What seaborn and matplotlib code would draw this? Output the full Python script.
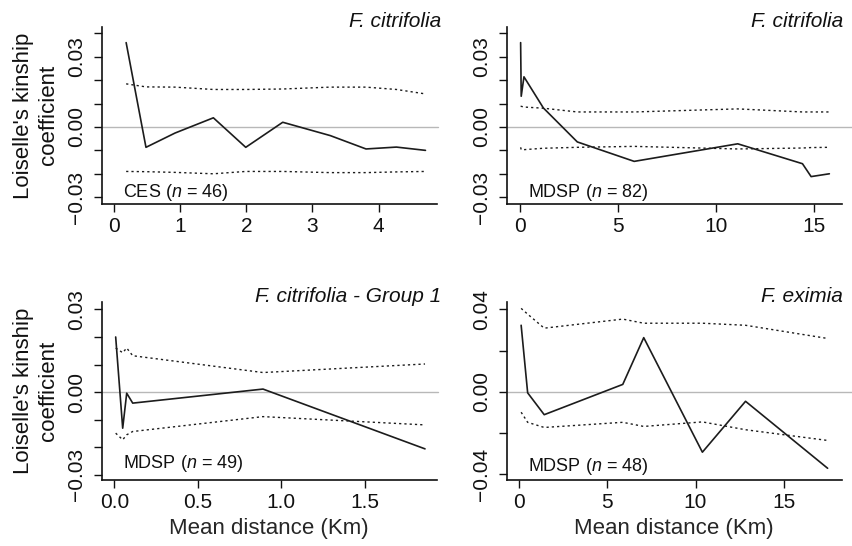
import numpy as np
import pandas as pd
import matplotlib
matplotlib.use("Agg")
import matplotlib.pyplot as plt
import seaborn as sns

# ---------------- data ----------------
# Panel A: F. citrifolia, CES (n = 46)
dist_a = [0.18, 0.48, 0.92, 1.50, 1.99, 2.55, 3.27, 3.81, 4.27, 4.71]
kin_a = [0.036, -0.0087, -0.0026, 0.0039, -0.0087, 0.0020, -0.0037, -0.0094, -0.0086, -0.0100]
up_a = [0.0184, 0.0171, 0.0170, 0.0160, 0.0160, 0.0162, 0.0170, 0.0170, 0.0160, 0.0141]
lo_a = [-0.0190, -0.0191, -0.0194, -0.0200, -0.0190, -0.0190, -0.0195, -0.0195, -0.0192, -0.0190]

# Panel B: F. citrifolia, MDSP (n = 82)
dist_b = [0.03, 0.06, 0.20, 1.19, 2.92, 5.82, 11.10, 14.40, 14.84, 15.77]
kin_b = [0.036, 0.0131, 0.0214, 0.0081, -0.0064, -0.0147, -0.0072, -0.0157, -0.0212, -0.0200]
up_b = [0.0088, 0.0088, 0.0085, 0.0080, 0.0064, 0.0064, 0.0077, 0.0064, 0.0064, 0.0064]
lo_b = [-0.0087, -0.0097, -0.0097, -0.0091, -0.0087, -0.0083, -0.0094, -0.0090, -0.0088, -0.0087]

# Panel C: F. citrifolia - Group 1, MDSP (n = 49)
dist_c = [0.008, 0.050, 0.074, 0.110, 0.890, 1.860]
kin_c = [0.0200, -0.0131, -0.0004, -0.0040, 0.0011, -0.0206]
up_c = [0.0160, 0.0143, 0.0160, 0.0132, 0.0071, 0.0102]
lo_c = [-0.0149, -0.0173, -0.0155, -0.0143, -0.0089, -0.0119]

# Panel D: F. eximia, MDSP (n = 48)
dist_d = [0.10, 0.47, 1.41, 5.87, 7.06, 10.39, 12.84, 17.50]
kin_d = [0.0323, -0.0005, -0.0111, 0.0036, 0.0263, -0.0293, -0.0046, -0.0371]
up_d = [0.0405, 0.0377, 0.0309, 0.0353, 0.0333, 0.0333, 0.0323, 0.0259]
lo_d = [-0.0099, -0.0148, -0.0173, -0.0148, -0.0168, -0.0146, -0.0184, -0.0236]

titles = ["F. citrifolia", "F. citrifolia", "F. citrifolia - Group 1", "F. eximia"]
notes = ["CES", "MDSP", "MDSP", "MDSP"]
ns = [46, 82, 49, 48]
xlabel = "Mean distance (Km)"
ylabel_lines = ["Loiselle's kinship", "coefficient"]

# ---------------- style ----------------
sns.set_style("ticks")
plt.rcParams["font.family"] = ["Liberation Sans", "DejaVu Sans"]
plt.rcParams["mathtext.fontset"] = "custom"
plt.rcParams["mathtext.rm"] = "Liberation Sans"
plt.rcParams["mathtext.it"] = "Liberation Sans:italic"

W, H = 853, 546
fig = plt.figure(figsize=(W / 100, H / 100), dpi=100)

def box(l, t, r, b):
    return [l / W, 1 - b / H, (r - l) / W, (b - t) / H]

axes_px = [(101.7, 26.7, 436.7, 204.0), (506.7, 26.7, 841.7, 204.0),
           (101.7, 302.0, 436.7, 480.0), (506.7, 302.0, 841.7, 480.0)]

panels = [
    (dist_a, kin_a, up_a, lo_a),
    (dist_b, kin_b, up_b, lo_b),
    (dist_c, kin_c, up_c, lo_c),
    (dist_d, kin_d, up_d, lo_d),
]
xlims = [(-0.19, 4.88), (-0.68, 16.4), (-0.0757, 1.93), (-0.72, 18.3)]
ylims = [(-0.0329, 0.0428), (-0.0329, 0.0428), (-0.0319, 0.0327), (-0.0428, 0.0436)]
xticks = [[0, 1, 2, 3, 4], [0, 5, 10, 15], [0.0, 0.5, 1.0, 1.5], [0, 5, 10, 15]]
xticklabels = [["0", "1", "2", "3", "4"], ["0", "5", "10", "15"],
               ["0.0", "0.5", "1.0", "1.5"], ["0", "5", "10", "15"]]
yticks = [np.round(np.arange(-0.03, 0.0401, 0.01), 2),
          np.round(np.arange(-0.03, 0.0401, 0.01), 2),
          np.round(np.arange(-0.03, 0.0301, 0.01), 2),
          np.round(np.arange(-0.04, 0.0401, 0.02), 2)]
ylabeled = [[-0.03, 0.0, 0.03], [-0.03, 0.0, 0.03], [-0.03, 0.0, 0.03], [-0.04, 0.0, 0.04]]
note_y = [0.041, 0.041, 0.066, 0.05]
zero_ext = [1.005, 1.034, 1.005, 1.034]

def fmt(v):
    s = "%.2f" % abs(v)
    return ("\u2212" + s) if v < 0 else s

line_col = "#1c1c1c"
for i, (d, k, u, lo) in enumerate(panels):
    ax = fig.add_axes(box(*axes_px[i]))
    df = pd.DataFrame({"dist": d, "kin": k, "up": u, "lo": lo})
    ax.axhline(0, xmin=0, xmax=zero_ext[i], color="#b8b8b8", lw=1.0, clip_on=False, zorder=1)
    sns.lineplot(data=df, x="dist", y="up", sort=False, estimator=None, ax=ax,
                 color=line_col, lw=1.0, linestyle=(0, (1.6, 2.2)), zorder=2)
    sns.lineplot(data=df, x="dist", y="lo", sort=False, estimator=None, ax=ax,
                 color=line_col, lw=1.0, linestyle=(0, (1.6, 2.2)), zorder=2)
    sns.lineplot(data=df, x="dist", y="kin", sort=False, estimator=None, ax=ax,
                 color=line_col, lw=1.2, zorder=3)
    ax.set_xlim(*xlims[i])
    ax.set_ylim(*ylims[i])
    ax.set_xticks(xticks[i])
    ax.set_xticklabels(xticklabels[i])
    ax.set_yticks(yticks[i])
    ax.set_yticklabels([fmt(v) if any(abs(v - w) < 1e-9 for w in ylabeled[i]) else ""
                        for v in yticks[i]], rotation=90, va="center")
    for s in ["top", "right"]:
        ax.spines[s].set_visible(False)
    for s in ["left", "bottom"]:
        ax.spines[s].set_linewidth(1.2)
        ax.spines[s].set_color("#111111")
    ax.tick_params(axis="both", direction="out", length=5.5, width=1.0,
                   colors="#111111", labelsize=15)
    ax.tick_params(axis="x", pad=4)
    ax.tick_params(axis="y", pad=6)
    ax.set_ylabel("")
    if i >= 2:
        ax.set_xlabel(xlabel, fontsize=16, labelpad=4)
    else:
        ax.set_xlabel("")
    ax.text(1.013 if i % 2 == 0 else 1.004, 1.0, titles[i], transform=ax.transAxes,
            ha="right", va="baseline", fontsize=15, style="italic", color="#111111")
    ax.text(0.064, note_y[i], "%s ($n$ = %d)" % (notes[i], ns[i]), transform=ax.transAxes,
            ha="left", va="baseline", fontsize=13, color="#111111")
    if i % 2 == 0:
        l, t, r, b = axes_px[i]
        cy = 1 - ((t + b) / 2) / H
        fig.text(24 / W, cy, ylabel_lines[0], rotation=90, ha="center", va="center",
                 fontsize=16, color="#111111")
        fig.text(49 / W, cy, ylabel_lines[1], rotation=90, ha="center", va="center",
                 fontsize=16, color="#111111")

fig.savefig("out.png", dpi=100)
